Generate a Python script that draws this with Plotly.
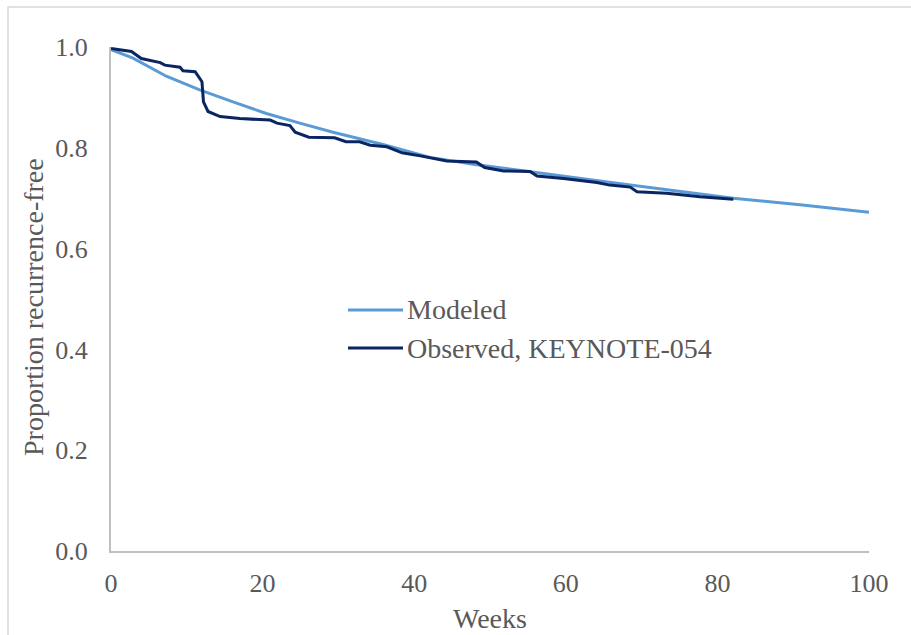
import plotly.graph_objects as go

# Modeled recurrence-free proportion by week
modeled_weeks = [0, 2.9, 7.3, 11.7, 16.1, 20.5, 24.9, 29.3, 36.0, 42.1, 48.0, 55.3, 64.5, 68.5, 82.1, 90.9, 100]
modeled_prop = [0.995, 0.978, 0.942, 0.915, 0.891, 0.868, 0.849, 0.831, 0.806, 0.781, 0.767, 0.753, 0.734, 0.726, 0.700, 0.687, 0.672]

# Observed Kaplan-Meier estimate, KEYNOTE-054
observed_weeks = [0, 2.7, 4.0, 6.5, 7.1, 9.1, 9.5, 11.1, 12.0, 12.2, 12.8, 14.4, 17.0, 21.0, 21.9,
                  23.6, 24.3, 26.1, 29.5, 31.0, 32.8, 34.2, 36.4, 38.4, 40.8, 44.3, 48.2, 49.3,
                  51.8, 55.3, 56.2, 59.7, 64.1, 65.8, 68.5, 69.4, 73.3, 77.7, 82.1]
observed_prop = [0.997, 0.991, 0.977, 0.969, 0.964, 0.960, 0.953, 0.951, 0.931, 0.891, 0.872, 0.862,
                 0.858, 0.855, 0.849, 0.844, 0.831, 0.821, 0.820, 0.812, 0.812, 0.805, 0.802, 0.790,
                 0.784, 0.774, 0.772, 0.761, 0.754, 0.753, 0.744, 0.739, 0.731, 0.726, 0.722, 0.713,
                 0.710, 0.703, 0.698]

series_names = ["Modeled", "Observed, KEYNOTE-054"]
series_colors = ["#5B9BD5", "#0B2462"]

x_ticks = [0, 20, 40, 60, 80, 100]
y_ticks = [0.0, 0.2, 0.4, 0.6, 0.8, 1.0]

FONT = "Liberation Serif, Times New Roman, serif"
TXT = "#595959"
TICK_SIZE = 26
LABEL_SIZE = 28
W, H = 911, 635
ML, MR, MT, MB = 111, 42, 47, 84
PW, PH = W - ML - MR, H - MT - MB


def px_x(p):
    return (p - ML) / PW


def px_y(p):
    return (H - MB - p) / PH


fig = go.Figure()
fig.add_trace(go.Scatter(x=modeled_weeks, y=modeled_prop, mode="lines", name=series_names[0],
                         line=dict(color=series_colors[0], width=3), showlegend=False))
fig.add_trace(go.Scatter(x=observed_weeks, y=observed_prop, mode="lines", name=series_names[1],
                         line=dict(color=series_colors[1], width=3), showlegend=False))

# Legend drawn as line samples with labels
legend_rows = [310, 348]
for name, color, ypix in zip(series_names, series_colors, legend_rows):
    fig.add_shape(type="line", xref="paper", yref="paper",
                  x0=px_x(348), x1=px_x(403), y0=px_y(ypix), y1=px_y(ypix),
                  line=dict(color=color, width=3))
    fig.add_annotation(xref="paper", yref="paper", x=px_x(405), y=px_y(ypix),
                       text=name, showarrow=False, xanchor="left", yanchor="middle",
                       font=dict(family=FONT, size=LABEL_SIZE, color=TXT))

# Axis titles
fig.add_annotation(xref="paper", yref="paper", x=px_x(490), y=px_y(618),
                   text="Weeks", showarrow=False, xanchor="center", yanchor="middle",
                   font=dict(family=FONT, size=LABEL_SIZE, color=TXT))
fig.add_annotation(xref="paper", yref="paper", x=px_x(33), y=px_y(307),
                   text="Proportion recurrence-free", showarrow=False, textangle=-90,
                   xanchor="center", yanchor="middle",
                   font=dict(family=FONT, size=LABEL_SIZE, color=TXT))

# Outer frame of the chart area
fig.add_shape(type="rect", xref="paper", yref="paper",
              x0=px_x(8), x1=px_x(W + 10), y0=px_y(H + 10), y1=px_y(7),
              line=dict(color="#D9D9D9", width=1.5), layer="below")

fig.update_layout(
    width=W, height=H,
    margin=dict(l=ML, r=MR, t=MT, b=MB),
    paper_bgcolor="white", plot_bgcolor="white",
    font=dict(family=FONT, size=TICK_SIZE, color=TXT),
    xaxis=dict(range=[0, 100], tickvals=x_ticks, ticktext=[str(v) for v in x_ticks],
               showgrid=False, zeroline=False, showline=True, linecolor="#BFBFBF", linewidth=2,
               ticks="", ticklabelstandoff=8, automargin=False),
    yaxis=dict(range=[0, 1.0], tickvals=y_ticks, ticktext=[f"{v:.1f}" for v in y_ticks],
               showgrid=False, zeroline=False, showline=True, linecolor="#BFBFBF", linewidth=2,
               ticks="", ticklabelstandoff=16, automargin=False),
)

fig.write_html("out.html")
